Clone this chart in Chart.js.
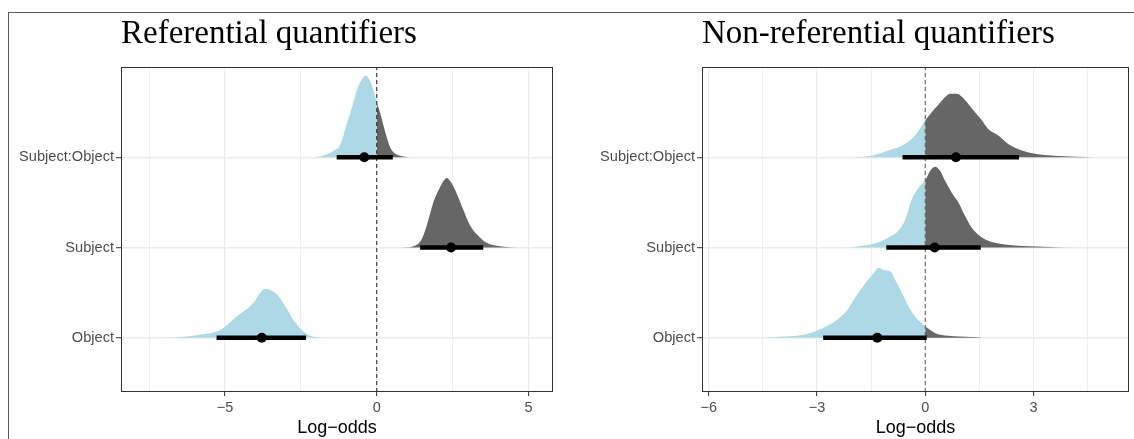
<!DOCTYPE html>
<html>
<head>
<meta charset="utf-8">
<script src="https://cdn.jsdelivr.net/npm/chart.js@4.4.1/dist/chart.umd.min.js"></script>
<style>
  body { margin: 0; background: #fff; }
  #wrap { position: relative; width: 1134px; height: 439px; overflow: hidden; }
  #frame { position: absolute; left: 8px; top: 12px; width: 1200px; height: 500px;
           border-top: 1px solid #5a5a5a; border-left: 1px solid #5a5a5a; }
  canvas { position: absolute; top: 0; }
</style>
</head>
<body>
<div id="wrap">
  <div id="frame"></div>
  <canvas id="refChart" width="570" height="439" style="left:0px"></canvas>
  <canvas id="nonChart" width="564" height="439" style="left:570px"></canvas>
</div>
<script>
var rows = ['Object', 'Subject', 'Subject:Object'];

// Referential quantifiers
var refMajorTicks = [-5, 0, 5];
var refMinorTicks = [-7.5, -2.5, 2.5];
var refObjX = [-7.04, -6.48, -6.05, -5.61, -5.28, -5.06, -4.84, -4.62, -4.40, -4.18, -4.01, -3.85, -3.68, -3.57, -3.41, -3.24, -3.08, -2.91, -2.75, -2.58, -2.42, -2.20, -1.87, -1.60];
var refObjH = [0, .008, .022, .044, .070, .107, .169, .235, .291, .346, .412, .494, .541, .538, .512, .464, .383, .291, .199, .125, .070, .022, .003, 0];
var refSubjX = [0.88, 1.21, 1.43, 1.54, 1.65, 1.76, 1.87, 1.98, 2.09, 2.20, 2.31, 2.42, 2.53, 2.64, 2.75, 2.86, 3.02, 3.18, 3.41, 3.63, 3.96, 4.40, 4.83];
var refSubjH = [0, .014, .063, .136, .246, .376, .505, .597, .671, .737, .770, .737, .677, .597, .505, .412, .284, .191, .110, .052, .019, .003, 0];
var refIntX = [-2.09, -1.65, -1.43, -1.21, -1.10, -0.99, -0.88, -0.77, -0.66, -0.55, -0.44, -0.35, -0.28, -0.16, -0.06, 0, 0.11, 0.22, 0.33, 0.44, 0.60, 0.88, 1.10];
var refIntH = [0, .030, .070, .133, .243, .372, .483, .608, .740, .829, .884, .906, .880, .796, .685, .608, .497, .354, .221, .110, .041, .008, 0];
var refMedian = [-3.79, 2.45, -0.41];
var refLower = [-5.28, 1.43, -1.32];
var refUpper = [-2.33, 3.51, 0.53];

// Non-referential quantifiers
var nonMajorTicks = [-6, -3, 0, 3];
var nonMinorTicks = [-4.5, -1.5, 1.5, 4.5];
var nonObjX = [-4.48, -4.04, -3.49, -3.12, -2.75, -2.39, -2.16, -1.93, -1.70, -1.47, -1.29, -1.15, -0.96, -0.83, -0.64, -0.46, -0.28, 0, 0.28, 0.64, 1.28, 1.60];
var nonObjH = [0, .011, .025, .063, .125, .218, .309, .456, .586, .696, .777, .751, .733, .641, .494, .346, .235, .125, .052, .022, .008, 0];
var nonSubjX = [-2.11, -1.75, -1.29, -1.01, -0.74, -0.55, -0.37, -0.18, 0, 0.14, 0.28, 0.41, 0.55, 0.73, 0.92, 1.10, 1.28, 1.56, 1.93, 2.48, 3.31, 3.95];
var nonSubjH = [0, .019, .059, .114, .188, .317, .538, .666, .740, .851, .895, .851, .740, .611, .500, .354, .224, .114, .052, .022, .008, 0];
var nonIntX = [-2.02, -1.47, -1.01, -0.55, -0.28, 0, 0.18, 0.37, 0.55, 0.69, 0.87, 1.01, 1.19, 1.38, 1.56, 1.74, 2.02, 2.29, 2.66, 3.12, 3.86, 4.50, 4.70];
var nonIntH = [0, .019, .077, .151, .243, .410, .500, .586, .666, .704, .704, .674, .593, .500, .417, .317, .243, .151, .077, .033, .011, .003, 0];
var nonMedian = [-1.33, 0.26, 0.85];
var nonLower = [-2.83, -1.08, -0.63];
var nonUpper = [0.04, 1.54, 2.60];

var blue = '#add8e6';
var gray = '#666666';
var yMin = 0.4, yMax = 4.0;

function splitAtZero(xs, hs, row) {
    var neg = [], pos = [];
    for (var i = 0; i < xs.length; i++) {
        if (i > 0 && xs[i - 1] < 0 && xs[i] > 0) {
            var t = -xs[i - 1] / (xs[i] - xs[i - 1]);
            var z = {x: 0, y: row + hs[i - 1] + t * (hs[i] - hs[i - 1])};
            neg.push(z);
            pos.push(z);
        }
        var p = {x: xs[i], y: row + hs[i]};
        if (xs[i] <= 0) neg.push(p);
        if (xs[i] >= 0) pos.push(p);
    }
    return [neg, pos];
}

function densitySet(data, color, row) {
    return {
        data: data, backgroundColor: color, borderWidth: 0, pointRadius: 0,
        fill: {value: row}, cubicInterpolationMode: 'monotone', order: 3
    };
}

function buildSets(dens, med, lo, hi, zeroColor) {
    var sets = [];
    sets.push({
        type: 'scatter',
        data: med.map(function(v, i){ return {x: v, y: i + 1}; }),
        backgroundColor: '#000', borderWidth: 0, pointRadius: 5, order: 0
    });
    for (var i = 0; i < med.length; i++) {
        sets.push({
            data: [{x: lo[i], y: i + 1}, {x: hi[i], y: i + 1}],
            borderColor: '#000', borderWidth: 4.5, borderCapStyle: 'butt',
            pointRadius: 0, fill: false, order: 1
        });
    }
    sets.push({
        data: [{x: 0, y: yMin}, {x: 0, y: yMax}],
        borderColor: zeroColor, borderWidth: 1, borderDash: [4, 3],
        pointRadius: 0, fill: false, order: 2
    });
    dens.forEach(function(d, i){
        var parts = splitAtZero(d[0], d[1], i + 1);
        sets.push(densitySet(parts[0], blue, i + 1));
        sets.push(densitySet(parts[1], gray, i + 1));
    });
    return sets;
}

function fmt(v) {
    return v < 0 ? '\u2212' + Math.abs(v) : String(v);
}

var panelBox = {
    id: 'panelBox',
    afterDraw: function(chart) {
        var a = chart.chartArea, c = chart.ctx;
        c.save();
        c.strokeStyle = '#333333';
        c.lineWidth = 1;
        c.strokeRect(a.left + 0.5, a.top + 0.5, a.right - a.left - 1, a.bottom - a.top - 1);
        c.restore();
    }
};

function makeChart(id, title, sets, xMin, xMax, major, minor, axisWidth, padRight) {
    var all = major.concat(minor).sort(function(a, b){ return a - b; });
    return new Chart(document.getElementById(id), {
        type: 'line',
        data: {datasets: sets},
        options: {
            responsive: false,
            animation: false,
            devicePixelRatio: 1,
            layout: {padding: {left: 0, right: padRight, top: 0, bottom: 0}},
            plugins: {
                legend: {display: false},
                tooltip: {enabled: false},
                title: {
                    display: true, text: title, align: 'start', fullSize: false,
                    color: '#000',
                    font: {family: 'Liberation Serif', size: 33, weight: 'normal', lineHeight: 1.2},
                    padding: {top: 15, bottom: 12.4}
                }
            },
            scales: {
                x: {
                    type: 'linear', min: xMin, max: xMax,
                    afterBuildTicks: function(s){ s.ticks = all.map(function(v){ return {value: v}; }); },
                    afterFit: function(s){ s.height = 47; },
                    border: {display: false},
                    grid: {
                        color: '#ebebeb',
                        lineWidth: function(ctx){ return ctx.tick && major.indexOf(ctx.tick.value) >= 0 ? 1.2 : 0.8; },
                        tickLength: 4,
                        tickWidth: 1,
                        tickColor: function(ctx){ return ctx.tick && major.indexOf(ctx.tick.value) >= 0 ? '#333333' : 'rgba(0,0,0,0)'; }
                    },
                    ticks: {
                        autoSkip: false, maxRotation: 0, padding: 3, color: '#4d4d4d',
                        font: {family: 'Liberation Sans', size: 14.5},
                        callback: function(v){ return major.indexOf(v) >= 0 ? fmt(v) : ''; }
                    },
                    title: {
                        display: true, text: 'Log\u2212odds', color: '#000',
                        font: {family: 'Liberation Sans', size: 18},
                        padding: {top: 0, bottom: 0}
                    }
                },
                y: {
                    type: 'linear', min: yMin, max: yMax,
                    afterBuildTicks: function(s){ s.ticks = [1, 2, 3].map(function(v){ return {value: v}; }); },
                    afterFit: function(s){ s.width = axisWidth; },
                    border: {display: false},
                    grid: {color: '#ebebeb', lineWidth: 1.4, tickLength: 5, tickWidth: 1, tickColor: '#333333'},
                    ticks: {
                        padding: 2, color: '#4d4d4d',
                        font: {family: 'Liberation Sans', size: 14.6},
                        callback: function(v){ return rows[v - 1]; }
                    }
                }
            }
        },
        plugins: [panelBox]
    });
}

var refSets = buildSets([[refObjX, refObjH], [refSubjX, refSubjH], [refIntX, refIntH]],
                        refMedian, refLower, refUpper, '#222222');
var nonSets = buildSets([[nonObjX, nonObjH], [nonSubjX, nonSubjH], [nonIntX, nonIntH]],
                        nonMedian, nonLower, nonUpper, '#555555');

makeChart('refChart', 'Referential quantifiers', refSets, -8.43, 5.81, refMajorTicks, refMinorTicks, 121, 17);
makeChart('nonChart', 'Non-referential quantifiers', nonSets, -6.19, 5.65, nonMajorTicks, nonMinorTicks, 132, 2);
</script>
</body>
</html>
